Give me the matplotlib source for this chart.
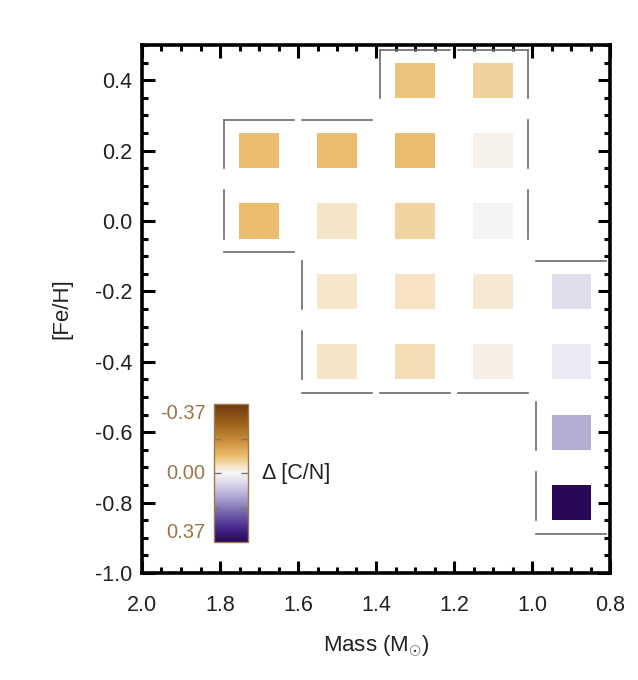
import matplotlib
matplotlib.use("Agg")
import matplotlib.pyplot as plt
from matplotlib.patches import Rectangle
from matplotlib.colors import Normalize, LinearSegmentedColormap
from matplotlib.ticker import MultipleLocator
import matplotlib.cm as cm

plt.rcParams['font.family'] = ['Liberation Sans', 'DejaVu Sans']
plt.rcParams['mathtext.fontset'] = 'custom'
plt.rcParams['mathtext.rm'] = 'Liberation Sans'
plt.rcParams['mathtext.it'] = 'Liberation Sans'

# grid cells: mass bin centre, [Fe/H] bin centre, delta [C/N]
mass = [1.3, 1.1,
        1.7, 1.5, 1.3, 1.1,
        1.7, 1.5, 1.3, 1.1,
        1.5, 1.3, 1.1, 0.9,
        1.5, 1.3, 1.1, 0.9,
        0.9,
        0.9]
feh = [0.4, 0.4,
       0.2, 0.2, 0.2, 0.2,
       0.0, 0.0, 0.0, 0.0,
       -0.2, -0.2, -0.2, -0.2,
       -0.4, -0.4, -0.4, -0.4,
       -0.6,
       -0.8]
dcn = [-0.082, -0.063,
       -0.09, -0.09, -0.095, -0.01,
       -0.09, -0.033, -0.06, -0.003,
       -0.03, -0.035, -0.025, 0.044,
       -0.032, -0.045, -0.012, 0.022,
       0.118,
       0.37]

cb_lim = 0.37
mass_step = 0.2
feh_step = 0.2

# brown-white-purple map as it looks in the paper figure
cmap = LinearSegmentedColormap.from_list('cn', [
    (0.00, '#6b3a10'), (0.15, '#a0631c'), (0.28, '#cf9440'),
    (0.38, '#ebbf72'), (0.45, '#f5e3c2'), (0.50, '#f6f6f8'),
    (0.58, '#d8d6ea'), (0.68, '#aaa3cf'), (0.80, '#6f5ea9'),
    (0.90, '#46288c'), (1.00, '#2a0858')])
norm = Normalize(vmin=-cb_lim, vmax=cb_lim)

fig = plt.figure(figsize=(6.38, 6.80), dpi=100)
ax = fig.add_axes([142/638, 1-573/680, 468/638, 528/680])
ax.set_xlim(2.0, 0.8)
ax.set_ylim(-1.0, 0.5)

for m, f, v in zip(mass, feh, dcn):
    ax.add_patch(Rectangle((m - 0.05, f - 0.05), 0.1, 0.1,
                           facecolor=cmap(norm(v)), edgecolor='none'))

# outline of the covered region, drawn edge by edge
cells = set(zip([round(m, 2) for m in mass], [round(f, 2) for f in feh]))
lc = '#6a6a6a'
lw = 1.2
for m, f in cells:
    lo, hi = m - mass_step/2, m + mass_step/2
    bot, top = f - feh_step/2, f + feh_step/2
    if (m, round(f + feh_step, 2)) not in cells:
        ax.plot([hi - 0.01, lo + 0.01], [top - 0.013, top - 0.013], color=lc, lw=lw)
    if (m, round(f - feh_step, 2)) not in cells:
        ax.plot([hi - 0.01, lo + 0.01], [bot + 0.012, bot + 0.012], color=lc, lw=lw)
    if (round(m + mass_step, 2), f) not in cells and hi < 2.0:
        ax.plot([hi - 0.01, hi - 0.01], [top - 0.013, top - 0.15], color=lc, lw=lw)
    if (round(m - mass_step, 2), f) not in cells and lo > 0.8 + 1e-6:
        ax.plot([lo + 0.01, lo + 0.01], [top - 0.013, top - 0.15], color=lc, lw=lw)

ax.xaxis.set_minor_locator(MultipleLocator(0.05))
ax.yaxis.set_minor_locator(MultipleLocator(0.05))
ax.set_xticks([2.0, 1.8, 1.6, 1.4, 1.2, 1.0, 0.8])
ax.set_xticklabels(['2.0', '1.8', '1.6', '1.4', '1.2', '1.0', '0.8'])
ax.set_yticks([0.4, 0.2, 0.0, -0.2, -0.4, -0.6, -0.8, -1.0])
ax.set_yticklabels(['0.4', '0.2', '0.0', '-0.2', '-0.4', '-0.6', '-0.8', '-1.0'])
ax.tick_params(which='both', direction='in', top=True, right=True,
               labelsize=15.5, labelcolor='#222222', width=2.2)
ax.tick_params(axis='x', which='major', pad=16)
ax.tick_params(axis='y', which='major', pad=7)
ax.tick_params(which='major', length=9)
ax.tick_params(which='minor', length=4.5)
for s in ax.spines.values():
    s.set_linewidth(2.6)

ax.set_xlabel(r'Mass (M$_{\odot}$)', fontsize=16, color='#222222', labelpad=12)
ax.set_ylabel('[Fe/H]', fontsize=16, color='#222222', labelpad=16)

# colour bar
cax = fig.add_axes([214/638, 1-542/680, 34/638, 138/680])
cb = fig.colorbar(cm.ScalarMappable(norm=norm, cmap=cmap), cax=cax)
cax.invert_yaxis()
cb.outline.set_edgecolor('#a07b4a')
cb.outline.set_linewidth(1.0)
cax.set_yticks([-cb_lim/2, 0.0, cb_lim/2])
cax.set_yticklabels([])
cax.tick_params(direction='in', left=True, right=True, length=5,
                color='#777777', width=1)
tc = '#9a7747'
tr = cax.get_yaxis_transform()
cax.text(-0.25, -cb_lim, '-0.37', transform=tr, ha='right', va='top',
         fontsize=14.5, color=tc)
cax.text(-0.25, 0.0, '0.00', transform=tr, ha='right', va='center',
         fontsize=14.5, color=tc)
cax.text(-0.25, cb_lim, '0.37', transform=tr, ha='right', va='bottom',
         fontsize=14.5, color=tc)
cax.text(1.42, 0.0, r'Δ [C/N]', transform=tr, ha='left', va='center',
         fontsize=15.5, color='#222222')

fig.savefig('out.png', dpi=100)
